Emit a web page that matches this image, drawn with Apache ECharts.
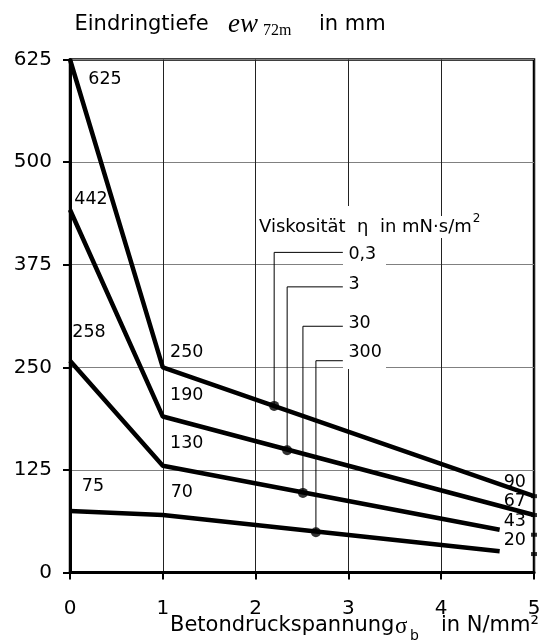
<!DOCTYPE html>
<html><head><meta charset="utf-8">
<script src="https://cdn.jsdelivr.net/npm/echarts@6/dist/echarts.min.js"></script>
<style>html,body{margin:0;padding:0;background:#fff}#c{width:544px;height:643px}</style>
</head><body><div id="c"></div>
<script>
// ---- data ----
const xTicks = [0, 1, 2, 3, 4, 5];
const yTicks = [0, 125, 250, 375, 500, 625];
const viscosities = ['0,3', '3', '30', '300'];
const line03  = [[0, 625], [1, 250], [5, 93]];
const line3   = [[0, 442], [1, 190], [5, 70]];
const line30  = [[0, 258], [1, 130], [4.63, 52]];
const line300 = [[0, 75],  [1, 70],  [4.63, 26]];
const startLabels = ['625', '442', '258', '75'];
const kneeLabels  = ['250', '190', '130', '70'];
const endLabels   = [90, 67, 43, 20];
const dotX = [2.20, 2.34, 2.51, 2.65];
const dotY = [203, 149, 97, 49];
const leaderLevel = [390, 348, 300, 258];
const edgeMarks = [93, 70, 46, 22.5];

// ---- styles ----
const FONT = 'DejaVu Sans';
const LABEL_FONT = '17.5px "DejaVu Sans"';
const lines = [line03, line3, line30, line300];
const startOff = [[35, 20], [21, -10], [19, -28], [23, -24]];
const kneeOff  = [[24, -15], [24, -21], [24, -22], [19, -23]];
const leaderLabOff = [2, -2, -3, -8];
const leaderEndX = 2.94, leaderLabX = 3.0;

const chart = echarts.init(document.getElementById('c'), null, {renderer: 'canvas'});

const series = [];
lines.forEach(d => series.push({
  type: 'line', data: d, symbol: 'none', silent: true, z: 3,
  lineStyle: {color: '#000', width: 4.5}, animation: false
}));
dotX.forEach((x, i) => series.push({
  type: 'line', data: [[x, dotY[i]], [x, leaderLevel[i]], [leaderEndX, leaderLevel[i]]],
  symbol: 'none', silent: true, z: 4, lineStyle: {color: '#000', width: 1}, animation: false
}));
series.push({
  type: 'scatter', data: dotX.map((x, i) => [x, dotY[i]]), symbolSize: 10, z: 5,
  itemStyle: {color: '#000'}, silent: true, animation: false
});
series.push({
  type: 'scatter', data: edgeMarks.map(v => [5, v]), symbol: 'rect', symbolSize: [6, 4], z: 5,
  itemStyle: {color: '#000'}, silent: true, clip: false, animation: false
});

const ctx = document.createElement('canvas').getContext('2d');
function tw(t, f) { ctx.font = f; return ctx.measureText(t).width; }
const viskText = 'Viskosität  η  in mN·s/m';
const viskFont = '18px "DejaVu Sans"';
const viskW = tw(viskText, viskFont);

const staticGraphic = [
  {type: 'rect', z: 1, shape: {x: 343, y: 206, width: 43, height: 163}, style: {fill: '#fff'}, silent: true},
  {type: 'text', z: 7, x: 258, y: 227, style: {text: viskText, font: viskFont, fill: '#000',
    verticalAlign: 'middle', backgroundColor: '#fff', padding: [2, 1]}},
  {type: 'text', z: 7, x: 258 + viskW + 2, y: 219, style: {text: '2', font: '12px "DejaVu Sans"', fill: '#000', verticalAlign: 'middle'}},
  {type: 'text', x: 74.5, y: 24.5, style: {text: 'Eindringtiefe', font: '21px "DejaVu Sans"', fill: '#000', verticalAlign: 'middle'}},
  {type: 'text', x: 228, y: 25, style: {text: 'ew', font: 'italic 27px "Liberation Serif"', fill: '#000', verticalAlign: 'middle'}},
  {type: 'text', x: 263, y: 31, style: {text: '72m', font: '16px "Liberation Serif"', fill: '#000', verticalAlign: 'middle'}},
  {type: 'text', x: 319, y: 24.5, style: {text: 'in mm', font: '21px "DejaVu Sans"', fill: '#000', verticalAlign: 'middle'}},
  {type: 'text', x: 170, y: 626, style: {text: 'Betondruckspannung', font: '21px "DejaVu Sans"', fill: '#000', verticalAlign: 'middle'}},
  {type: 'text', x: 395, y: 627, style: {text: 'σ', font: '23px "Liberation Serif"', fill: '#000', verticalAlign: 'middle'}},
  {type: 'text', x: 410, y: 636, style: {text: 'b', font: '14px "DejaVu Sans"', fill: '#000', verticalAlign: 'middle'}},
  {type: 'text', x: 441, y: 626, style: {text: 'in N/mm²', font: '21px "DejaVu Sans"', fill: '#000', verticalAlign: 'middle'}}
];

chart.setOption({
  animation: false,
  backgroundColor: '#fff',
  grid: {left: 70, right: 10, top: 59.5, bottom: 70.5, show: true, borderColor: '#000', borderWidth: 2.5, containLabel: false},
  xAxis: {
    type: 'value', min: 0, max: 5, interval: 1,
    axisLine: {lineStyle: {color: '#000', width: 3}},
    axisTick: {length: 7, lineStyle: {color: '#000', width: 2}},
    axisLabel: {fontSize: 20, color: '#000', margin: 26, fontFamily: FONT,
      formatter: v => xTicks.includes(v) ? String(v) : ''},
    splitLine: {show: true, lineStyle: {color: '#222', width: 1}}
  },
  yAxis: {
    type: 'value', min: 0, max: 625, interval: 125,
    axisLine: {show: true, lineStyle: {color: '#000', width: 3}},
    axisTick: {show: true, length: 7, lineStyle: {color: '#000', width: 2}},
    axisLabel: {fontSize: 20, color: '#000', margin: 18, fontFamily: FONT,
      formatter: v => yTicks.includes(v) ? String(v) : ''},
    splitLine: {show: true, lineStyle: {color: '#808080', width: 1}}
  },
  graphic: staticGraphic,
  series: series
});

// data labels placed through the chart's own coordinate conversion
const labelGraphic = [];
function addLabel(text, pt, off, align) {
  const p = chart.convertToPixel({gridIndex: 0}, pt);
  labelGraphic.push({type: 'text', z: 8, x: p[0] + off[0], y: p[1] + off[1], silent: true,
    style: {text: text, font: LABEL_FONT, fill: '#000', align: align, verticalAlign: 'middle'}});
}
lines.forEach((d, i) => {
  addLabel(startLabels[i], d[0], startOff[i], 'center');
  addLabel(kneeLabels[i], d[1], kneeOff[i], 'center');
  addLabel(String(endLabels[i]), [5, endLabels[i]], [-8, -16], 'right');
});
viscosities.forEach((v, i) => addLabel(v, [leaderLabX, leaderLevel[i]], [0, leaderLabOff[i]], 'left'));
chart.setOption({graphic: staticGraphic.concat(labelGraphic)});
</script></body></html>
